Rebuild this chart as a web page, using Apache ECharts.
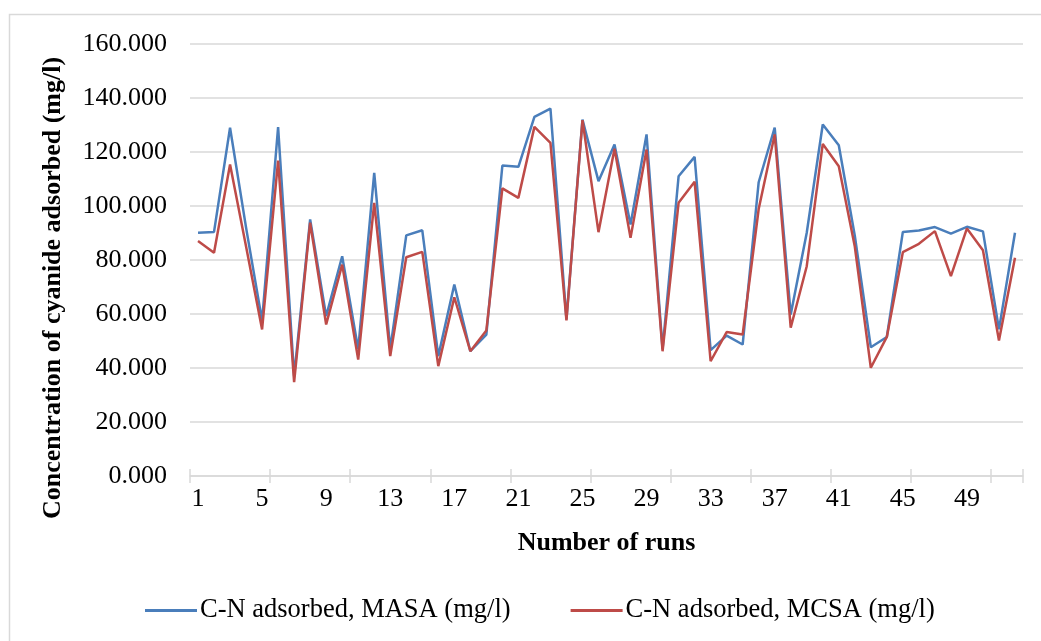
<!DOCTYPE html>
<html>
<head>
<meta charset="utf-8">
<script src="https://cdn.jsdelivr.net/npm/echarts@6/dist/echarts.min.js"></script>
<style>
html,body{margin:0;padding:0;background:#fff;}
#chart{width:1041px;height:641px;}
</style>
</head>
<body>
<div id="chart"></div>
<script>
var runs = ['1','2','3','4','5','6','7','8','9','10','11','12','13','14','15','16','17','18','19','20','21','22','23','24','25','26','27','28','29','30','31','32','33','34','35','36','37','38','39','40','41','42','43','44','45','46','47','48','49','50','51','52'];
var masa = [90.1,90.4,129.0,92,57.5,129.2,37,95.0,59.2,81.4,46.9,112.3,47,89.1,91.0,44.4,70.9,46.2,52.4,115.0,114.5,133.0,136.1,58.0,132.0,109.2,122.8,93.1,126.5,47,111.0,118.2,46.6,52.0,48.7,108.8,129.0,59.8,90.1,130.2,122.5,89,47.7,51.5,90.4,90.9,92.2,89.8,92.3,90.6,54.3,90.1];
var mcsa = [87.0,82.7,115.4,85,54.3,116.8,34.8,93.8,56.1,78.3,43.1,101.2,44.4,81.0,83.0,40.7,66.2,46.2,53.9,106.5,103.0,129.3,123.4,57.6,131.8,90.3,121.2,88.2,120.9,46.2,101.2,109.0,42.5,53.3,52.4,98.9,126.5,54.9,77.7,123.0,114.7,85,40.1,51.5,82.9,86.0,90.7,74.0,91.7,83.6,50.2,80.8];
var seriesNames = ['C-N adsorbed, MASA (mg/l)', 'C-N adsorbed, MCSA (mg/l)'];
var yMin = 0, yMax = 160, yStep = 20;

var FONT = '"Liberation Serif", "Times New Roman", serif';
var chart = echarts.init(document.getElementById('chart'), null, {renderer: 'canvas'});
chart.setOption({
  animation: false,
  backgroundColor: '#fff',
  color: ['#4a7ebb', '#be4b48'],
  graphic: [{
    type: 'rect', silent: true, z: -1,
    shape: {x: 9.5, y: 14.5, width: 1040, height: 640},
    style: {fill: 'none', stroke: '#d9d9d9', lineWidth: 1.5}
  }],
  grid: {left: 190, right: 18, top: 44, bottom: 165, containLabel: false},
  legend: {
    left: 140, top: 592,
    itemWidth: 52, itemHeight: 3, itemGap: 60,
    icon: 'rect',
    textStyle: {fontFamily: FONT, fontSize: 26.5, color: '#000', padding: [0,0,0,-2]},
    data: seriesNames
  },
  xAxis: [{
    type: 'category',
    data: runs,
    boundaryGap: true,
    name: 'Number of runs',
    nameLocation: 'middle',
    nameGap: 54,
    nameTextStyle: {fontFamily: FONT, fontSize: 26, fontWeight: 'bold', color: '#000'},
    axisLine: {lineStyle: {color: '#d9d9d9', width: 1.5}},
    axisTick: {show: true, interval: 4, length: 7, lineStyle: {color: '#d9d9d9', width: 1.5}},
    axisLabel: {interval: 3, margin: 10, fontFamily: FONT, fontSize: 26, color: '#000'},
    splitLine: {show: false}
  }, {
    type: 'category',
    data: runs,
    position: 'bottom',
    boundaryGap: true,
    axisLine: {show: false},
    axisTick: {show: true, inside: true, interval: 4, length: 7, lineStyle: {color: '#d9d9d9', width: 1.5}},
    axisLabel: {show: false},
    splitLine: {show: false}
  }],
  yAxis: {
    type: 'value',
    min: yMin, max: yMax, interval: yStep,
    name: 'Concentration of cyanide adsorbed (mg/l)',
    nameLocation: 'middle',
    nameRotate: 90,
    nameGap: 124,
    nameTextStyle: {fontFamily: FONT, fontSize: 26, fontWeight: 'bold', color: '#000', padding: [0, 56, 0, 0]},
    axisLine: {show: false},
    axisTick: {show: false},
    axisLabel: {margin: 23, fontFamily: FONT, fontSize: 26, color: '#000',
      formatter: function (v) { return v.toFixed(3); }},
    splitLine: {lineStyle: {color: '#d9d9d9', width: 1.5}}
  },
  series: [{
    name: seriesNames[0], type: 'line', data: masa,
    showSymbol: false, symbol: 'none',
    lineStyle: {width: 2.5, color: '#4a7ebb'}, itemStyle: {color: '#4a7ebb'}
  }, {
    name: seriesNames[1], type: 'line', data: mcsa,
    showSymbol: false, symbol: 'none',
    lineStyle: {width: 2.5, color: '#be4b48'}, itemStyle: {color: '#be4b48'}
  }]
});
</script>
</body>
</html>
